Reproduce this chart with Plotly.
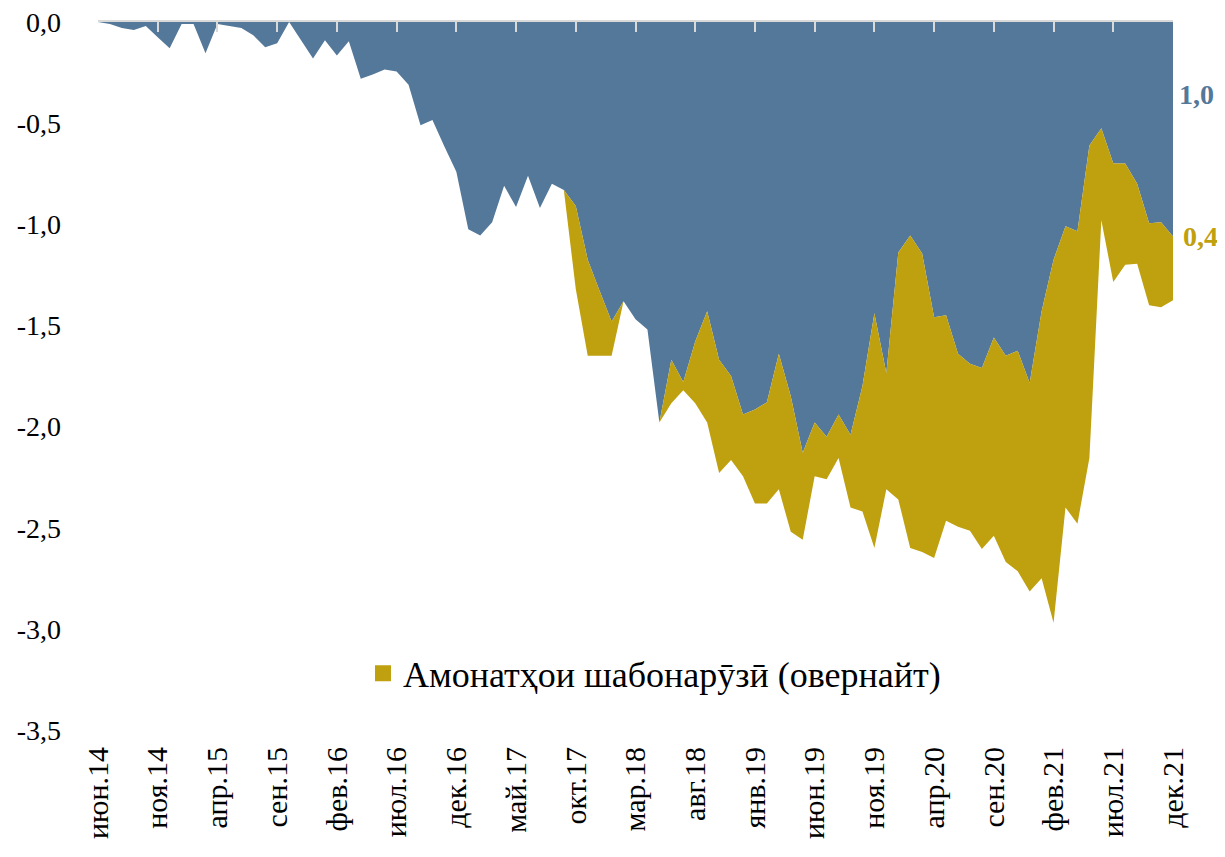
import plotly.graph_objects as go

# ---- data ----
month_names = ["янв", "фев", "мар", "апр", "май", "июн", "июл", "авг", "сен", "окт", "ноя", "дек"]
start_year = 2014
start_month = 6
n_months = 91

blue_vals = [
    0.00, -0.01, -0.03, -0.04, -0.02, -0.075, -0.13, -0.01, -0.01, -0.155,
    -0.01, -0.02, -0.03, -0.065, -0.125, -0.105, 0.00, -0.09, -0.18, -0.09,
    -0.165, -0.095, -0.28, -0.26, -0.235, -0.245, -0.31, -0.51, -0.485, -0.615,
    -0.74, -1.025, -1.055, -0.99, -0.81, -0.915, -0.76, -0.92, -0.80, -0.83,
    -0.91, -1.175, -1.33, -1.48, -1.38, -1.47, -1.52, -1.98, -1.67, -1.78,
    -1.58, -1.43, -1.67, -1.75, -1.94, -1.915, -1.88, -1.64, -1.85, -2.13,
    -1.98, -2.05, -1.94, -2.04, -1.80, -1.44, -1.735, -1.14, -1.055, -1.145,
    -1.46, -1.45, -1.64, -1.69, -1.71, -1.56, -1.65, -1.625, -1.785, -1.43,
    -1.175, -1.01, -1.035, -0.61, -0.525, -0.70, -0.70, -0.80, -0.995, -0.99,
    -1.06,
]

overnight_vals = [0.0] * 40 + [
    -0.41, -0.475, -0.32, -0.17, 0.0, 0.0, 0.0, 0.0, -0.215, -0.04,
    -0.305, -0.55, -0.56, -0.415, -0.305, -0.465, -0.50, -0.67, -0.67, -0.43,
    -0.265, -0.21, -0.215, -0.36, -0.62, -1.16, -0.575, -1.22, -1.545, -1.475,
    -1.19, -1.015, -0.855, -0.825, -0.895, -0.98, -1.02, -1.09, -1.03, -1.32,
    -1.795, -1.39, -1.445, -1.545, -0.455, -0.585, -0.50, -0.395, -0.405, -0.42,
    -0.315,
]

y_tickvals = [0, -0.5, -1.0, -1.5, -2.0, -2.5, -3.0, -3.5]
y_ticktext = ["0,0", "-0,5", "-1,0", "-1,5", "-2,0", "-2,5", "-3,0", "-3,5"]

legend_name = "Амонатҳои шабонарӯзӣ (овернайт)"
end_label_blue = "1,0"
end_label_gold = "0,4"

BLUE = "#547899"
GOLD = "#BFA00F"

# month category labels
months = []
for k in range(n_months):
    m = (start_month - 1 + k) % 12
    yr = start_year + (start_month - 1 + k) // 12
    months.append(f"{month_names[m]}.{yr % 100:02d}")
x_ticks = months[::5]

fig = go.Figure()
fig.add_trace(go.Scatter(
    x=months, y=blue_vals, stackgroup="one", mode="none",
    fillcolor=BLUE, showlegend=False, name="",
))
fig.add_trace(go.Scatter(
    x=months, y=overnight_vals, stackgroup="one", mode="none",
    fillcolor=GOLD, name=legend_name, showlegend=False,
))
# legend entry with a square swatch
fig.add_trace(go.Scatter(
    x=[None], y=[None], mode="markers",
    marker=dict(symbol="square", size=18, color=GOLD),
    name=legend_name, showlegend=True,
))
# invisible helper trace for the top axis line
fig.add_trace(go.Scatter(
    x=months, y=[0] * n_months, xaxis="x2", mode="none",
    showlegend=False, hoverinfo="skip",
))

FONT = "Liberation Serif"

fig.update_layout(
    width=1217, height=849,
    margin=dict(l=90, r=52, t=14, b=127),
    paper_bgcolor="white", plot_bgcolor="white",
    font=dict(family=FONT, color="black"),
    xaxis=dict(
        type="category", categoryorder="array", categoryarray=months,
        range=[0, n_months - 1], tickmode="array", tickvals=x_ticks, ticktext=x_ticks,
        tickangle=-90, tickfont=dict(family=FONT, size=30, color="black"),
        showgrid=False, showline=False, zeroline=False, ticks="",
        ticklabelstandoff=10, automargin=False, ticklabeloverflow="allow",
    ),
    xaxis2=dict(
        type="category", categoryorder="array", categoryarray=months,
        overlaying="x", side="top", anchor="y",
        range=[0, n_months - 1], tickmode="array", tickvals=x_ticks,
        showticklabels=False, showgrid=False, zeroline=False,
        showline=True, linecolor="#d9d9d9", linewidth=2,
        ticks="inside", ticklen=10, tickwidth=2, tickcolor="#d9d9d9",
        automargin=False,
    ),
    yaxis=dict(
        range=[-3.5, 0], tickmode="array", tickvals=y_tickvals, ticktext=y_ticktext,
        tickfont=dict(family=FONT, size=28, color="black"),
        showgrid=False, zeroline=False, showline=False, ticks="",
        ticklabelstandoff=36, automargin=False, ticklabeloverflow="allow",
    ),
    legend=dict(
        x=0.2465, y=0.08, xanchor="left", yanchor="middle",
        font=dict(family=FONT, size=36, color="black"),
        bgcolor="rgba(0,0,0,0)", itemwidth=30,
    ),
    annotations=[
        dict(text=f"<b>{end_label_blue}</b>", x=1.004, y=-0.36, xref="paper", yref="y",
             xanchor="left", yanchor="middle", showarrow=False,
             font=dict(family=FONT, size=28, color=BLUE)),
        dict(text=f"<b>{end_label_gold}</b>", x=1.007, y=-1.06, xref="paper", yref="y",
             xanchor="left", yanchor="middle", showarrow=False,
             font=dict(family=FONT, size=28, color=GOLD)),
    ],
)

fig.write_html("out.html")
